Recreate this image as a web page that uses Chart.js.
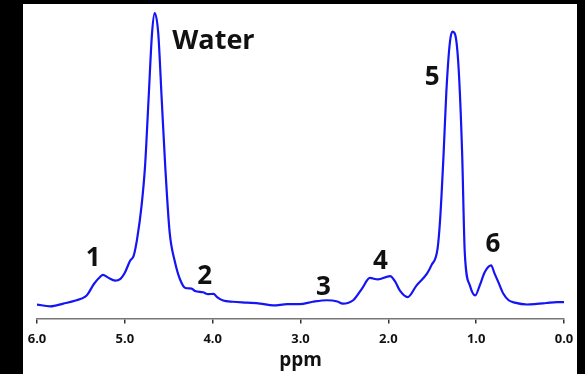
<!DOCTYPE html>
<html>
<head>
<meta charset="utf-8">
<script src="https://cdn.jsdelivr.net/npm/chart.js@4.4.1/dist/chart.umd.min.js"></script>
<style>
  html, body { margin: 0; padding: 0; background: #000; }
  #panel { position: absolute; left: 23px; top: 4px; width: 554px; height: 370px; background: #fff; }
</style>
</head>
<body>
<div id="panel"><canvas id="spectrum" width="554" height="370"></canvas></div>
<script>
// espectro leído a ojo del original (ppm, intensidad arbitraria)
const ppm = [6.00, 5.85, 5.70, 5.56, 5.45, 5.42, 5.35, 5.28, 5.25, 5.19, 5.11, 5.05, 5.00, 4.94, 4.90, 4.86,
  4.81, 4.77, 4.73, 4.69, 4.66, 4.62, 4.58, 4.54, 4.49, 4.43, 4.37, 4.31, 4.24, 4.20, 4.11, 4.05, 3.99, 3.95,
  3.88, 3.77, 3.61, 3.46, 3.31, 3.15, 3.01, 2.86, 2.70, 2.58, 2.52, 2.40, 2.30, 2.21, 2.12, 1.98, 1.92, 1.87,
  1.78, 1.68, 1.56, 1.51, 1.44, 1.41, 1.37, 1.34, 1.30, 1.27, 1.24, 1.20, 1.16, 1.13, 1.07, 1.01, 0.96, 0.90,
  0.83, 0.79, 0.75, 0.69, 0.63, 0.56, 0.42, 0.31, 0.20, 0.08, 0.00];
const intensity = [4.6, 4.0, 4.9, 5.9, 7.2, 8.1, 11.4, 13.7, 14.3, 13.4, 12.4, 13.0, 15.0, 18.9, 20.5, 26.1,
  36.8, 49.8, 71.7, 93.5, 100, 93.5, 71.7, 49.8, 28.3, 18.6, 12.7, 10.0, 9.8, 9.0, 8.6, 8.0, 8.1, 7.0,
  5.9, 5.5, 5.2, 4.9, 4.3, 4.7, 4.7, 5.5, 6.0, 5.6, 4.9, 6.0, 9.8, 13.3, 12.8, 13.9, 12.0, 9.2,
  7.0, 10.8, 14.7, 17.4, 22.8, 32.6, 54.4, 73.9, 90.2, 93.9, 93.0, 82.0, 54.4, 21.8, 10.7, 7.6, 10.8, 15.3,
  17.4, 14.7, 12.1, 8.1, 6.0, 5.2, 4.6, 4.8, 5.1, 5.4, 5.4];

// etiquetas de los picos y dónde van (en unidades de datos)
const peakLabels = ['Water', '1', '2', '3', '4', '5', '6'];
const peakPpm = [4.46, 5.36, 4.09, 2.74, 2.09, 1.50, 0.81];
const peakInt = [88.3, 17.3, 11.2, 7.6, 16.1, 76.5, 21.8];

const xTicks = [0, 1, 2, 3, 4, 5, 6];

const puntos = ppm.map((p, i) => ({ x: p, y: intensity[i] }));

// plugin simple para escribir las etiquetas encima del espectro
const etiquetasPicos = {
  id: 'etiquetasPicos',
  afterDatasetsDraw(chart) {
    const ctx = chart.ctx;
    const xs = chart.scales.x, ys = chart.scales.y;
    ctx.save();
    ctx.fillStyle = '#111';
    ctx.textBaseline = 'alphabetic';
    peakLabels.forEach((txt, i) => {
      const px = xs.getPixelForValue(peakPpm[i]);
      const py = ys.getPixelForValue(peakInt[i]);
      if (txt === 'Water') {
        ctx.font = 'bold 27px "Open Sans"';
        ctx.textAlign = 'left';
      } else {
        ctx.font = 'bold 26px "Open Sans"';
        ctx.textAlign = 'center';
      }
      ctx.fillText(txt, px, py);
    });
    ctx.restore();
  }
};

new Chart(document.getElementById('spectrum').getContext('2d'), {
  type: 'line',
  data: {
    datasets: [{
      data: puntos,
      borderColor: 'rgb(20, 20, 245)',
      borderWidth: 2.2,
      pointRadius: 0,
      cubicInterpolationMode: 'monotone',
      fill: false
    }]
  },
  options: {
    responsive: false,
    animation: false,
    devicePixelRatio: 1,
    layout: { padding: { left: 14, right: 13, top: 6, bottom: 0 } },
    plugins: { legend: { display: false }, tooltip: { enabled: false } },
    scales: {
      x: {
        type: 'linear',
        reverse: true,
        min: 0,
        max: 6,
        afterBuildTicks: (axis) => { axis.ticks = xTicks.map(v => ({ value: v })); },
        ticks: {
          color: '#111',
          font: { family: '"Open Sans"', size: 13, weight: 'bold' },
          padding: 8,
          maxRotation: 0,
          callback: (v) => Number(v).toFixed(1)
        },
        grid: { drawOnChartArea: false, drawTicks: true, tickLength: 5, color: '#333', lineWidth: 1.5 },
        border: { display: true, color: '#777', width: 1.5 },
        title: {
          display: true,
          text: 'ppm',
          color: '#111',
          font: { family: '"Open Sans"', size: 19, weight: 'bold', lineHeight: 0.57 },
          padding: { top: 0, bottom: 8 }
        }
      },
      y: {
        display: false,
        min: 0,
        max: 101
      }
    }
  },
  plugins: [etiquetasPicos]
});
</script>
</body>
</html>
